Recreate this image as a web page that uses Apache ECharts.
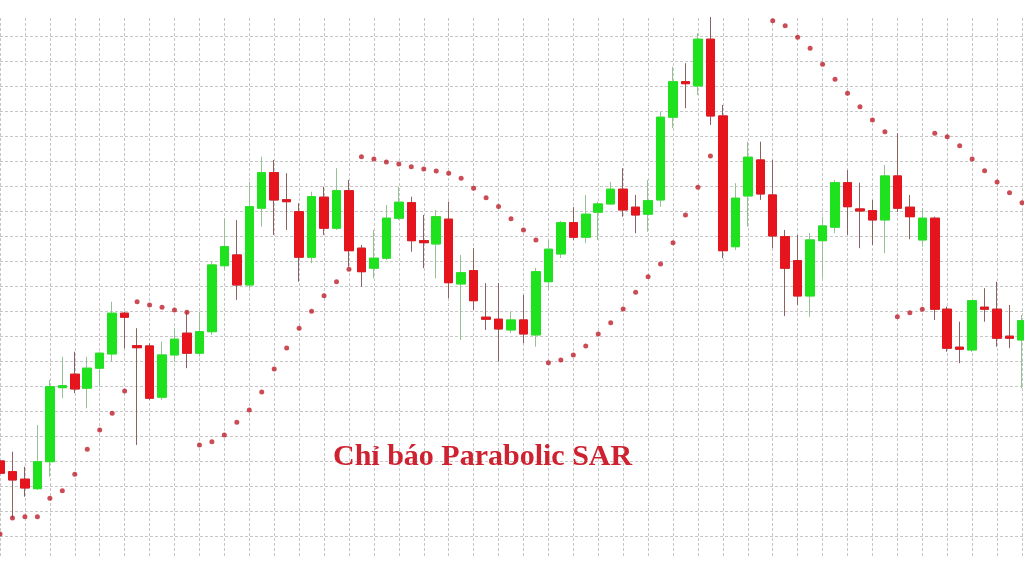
<!DOCTYPE html>
<html>
<head>
<meta charset="utf-8">
<script src="https://cdn.jsdelivr.net/npm/echarts@6/dist/echarts.min.js"></script>
<style>
html,body{margin:0;padding:0;background:#fff;}
#chart{width:1024px;height:576px;}
</style>
</head>
<body>
<div id="chart"></div>
<script>
// Price values (arbitrary units; one grid cell = 10 units)
const opens  = [40.3,36.0,33.0,29.2,40.0,69.6,75.0,69.4,77.4,83.1,99.4,86.4,86.3,65.8,82.7,91.4,83.4,92.0,118.4,122.7,
                110.7,141.4,155.6,144.8,140.0,121.8,145.8,133.4,148.4,125.4,117.4,121.4,137.4,143.6,128.4,127.1,137.0,111.1,116.4,97.8,
                97.0,92.7,96.7,90.7,112.0,123.1,135.6,129.8,139.8,143.1,149.0,141.8,139.0,144.7,177.8,192.0,190.3,209.0,178.3,126.0,
                146.3,160.7,146.7,130.0,120.4,106.3,128.4,133.8,151.6,141.1,140.4,136.7,154.3,141.8,128.7,137.4,101.0,85.8,84.7,101.8,
                101.0,90.2,88.7];
const closes = [35.4,32.7,29.5,40.0,70.0,70.4,69.1,77.4,83.4,99.4,97.8,85.6,65.4,82.7,89.0,83.4,92.0,118.7,126.0,110.7,
                142.0,155.6,144.7,144.0,121.8,146.0,133.4,148.4,124.4,116.0,121.4,137.4,143.8,128.4,127.6,138.0,111.6,115.6,104.4,97.0,
                93.1,96.7,91.1,116.0,125.0,135.6,129.8,139.0,143.1,149.0,140.7,138.7,144.4,177.8,192.0,191.2,209.0,178.3,124.4,145.4,
                161.8,147.1,130.3,117.4,106.3,128.7,134.3,151.6,142.0,140.3,136.7,154.3,141.4,138.0,137.4,101.0,85.4,85.0,104.4,101.0,
                89.4,89.4,96.4];
const lows   = [34.3,17.4,26.0,28.7,34.0,65.4,67.4,61.4,70.0,80.0,85.4,46.7,64.7,64.7,80.0,77.4,82.0,90.7,116.7,104.7,
                109.5,134.0,130.7,132.7,112.0,119.4,130.7,132.7,118.0,110.0,113.4,120.7,136.7,124.0,117.4,113.4,105.4,88.7,100.7,92.7,
                80.0,91.4,87.4,86.0,108.7,121.5,128.7,127.4,128.7,142.7,138.0,131.4,132.0,142.0,173.4,181.4,186.7,174.7,121.4,124.7,
                134.0,144.7,125.4,98.3,102.7,98.0,113.4,131.4,130.7,125.4,126.7,123.4,139.9,129.0,126.0,96.7,84.0,79.4,83.9,96.0,
                86.0,85.4,69.4];
const highs  = [41.5,44.0,38.0,54.7,72.7,82.0,84.0,82.0,84.0,104.0,100.0,93.4,87.4,88.0,93.4,100.0,100.0,120.0,137.4,136.7,
                152.0,162.0,160.7,155.4,143.4,148.0,150.0,157.4,152.7,126.7,132.7,142.7,150.0,146.0,138.7,140.7,144.0,122.7,125.4,111.4,
                111.5,100.0,106.7,117.5,128.7,136.3,141.8,146.7,144.0,151.9,157.4,146.7,152.7,180.0,198.0,199.4,211.4,217.9,182.7,151.4,
                168.0,168.0,160.7,132.7,130.7,131.4,138.0,152.7,156.7,151.6,144.7,158.7,171.4,146.7,141.4,138.0,102.0,96.0,104.7,109.4,
                112.0,102.7,98.7];
// Parabolic SAR dots ('-' = off the top of the chart)
const sar    = [11.1,17.5,18.0,18.0,25.4,28.4,35.0,45.0,52.7,59.4,68.3,104.0,102.7,101.8,100.7,99.8,46.7,48.0,50.7,55.8,
                60.7,67.9,77.1,85.5,93.4,100.2,106.4,112.0,117.0,162.0,161.1,159.9,159.1,158.0,157.1,156.3,155.4,153.4,149.4,145.6,
                142.1,137.2,132.7,128.7,79.6,80.7,82.7,86.3,91.1,95.6,101.1,107.8,114.0,119.1,127.6,138.7,149.8,162.3,'-','-',
                '-','-',216.4,214.4,209.8,205.4,199.0,193.0,187.4,182.0,176.7,172.0,98.0,99.6,101.0,171.4,170.0,166.4,161.1,156.4,
                151.9,147.6,143.6];
const categories = opens.map((_, i) => 'D' + (i + 1));
const titleText = 'Chỉ báo Parabolic SAR';

const ohlc = opens.map((o, i) => [o, closes[i], lows[i], highs[i]]);
const bodies = opens.map((o, i) => [o, closes[i], Math.min(o, closes[i]), Math.max(o, closes[i])]);

const GREEN = '#1fe21f', RED = '#e6141c';
const lineStyle = { color: '#c6c6c6', width: 1, type: [3, 2] };
const everyOther = (idx) => idx % 2 === 0;

const chart = echarts.init(document.getElementById('chart'), null, { renderer: 'canvas' });
chart.setOption({
  animation: false,
  backgroundColor: '#ffffff',
  grid: [
    { left: -1, right: 2, top: 18, bottom: 19 },
    { left: 0, right: 0, top: 36.7, bottom: 39.3 }
  ],
  xAxis: [
    { type: 'category', gridIndex: 0, data: categories, boundaryGap: false,
      axisLine: { show: false },
      axisTick: { show: false, interval: everyOther },
      axisLabel: { show: false, interval: everyOther },
      splitLine: { show: true, interval: everyOther, lineStyle: lineStyle } },
    { type: 'value', gridIndex: 1, min: 0, max: 1, show: false }
  ],
  yAxis: [
    { type: 'value', gridIndex: 0, min: 1.88, max: 217.48,
      axisLine: { show: false }, axisTick: { show: false }, axisLabel: { show: false }, splitLine: { show: false } },
    { type: 'value', gridIndex: 1, min: 10, max: 210, interval: 10,
      axisLine: { show: false }, axisTick: { show: false }, axisLabel: { show: false },
      splitLine: { show: true, lineStyle: lineStyle } }
  ],
  series: [
    { name: 'wicks', type: 'candlestick', xAxisIndex: 0, yAxisIndex: 0, data: ohlc, barWidth: 9, clip: false, z: 3,
      itemStyle: { color: 'rgba(0,0,0,0)', color0: 'rgba(0,0,0,0)', borderColor: '#94c294', borderColor0: '#8a6262', borderWidth: 1 } },
    { name: 'bodies', type: 'candlestick', xAxisIndex: 0, yAxisIndex: 0, data: bodies, barWidth: 9, clip: false, z: 4,
      itemStyle: { color: GREEN, color0: RED, borderColor: GREEN, borderColor0: RED, borderWidth: 1 } },
    { name: 'SAR', type: 'scatter', xAxisIndex: 0, yAxisIndex: 0, data: sar, symbol: 'circle', symbolSize: 5, z: 5,
      itemStyle: { color: '#be1f2a' } }
  ],
  graphic: [
    { type: 'text', left: 333, top: 442, z: 10,
      style: { text: titleText, font: 'bold 30px "Liberation Serif", "Times New Roman", serif', fill: '#cf2230' } }
  ]
});
</script>
</body>
</html>
